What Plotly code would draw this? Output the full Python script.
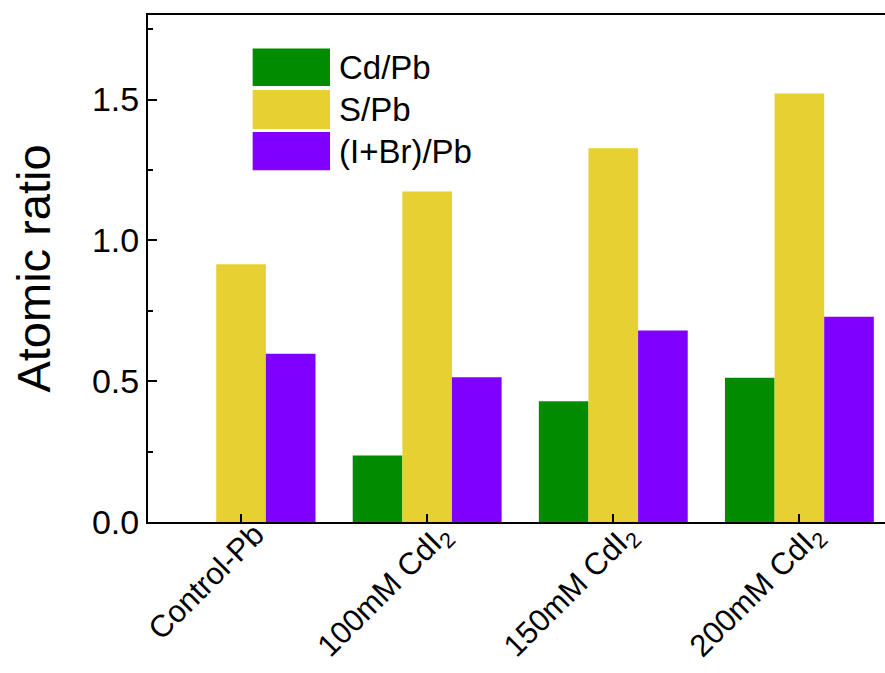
import plotly.graph_objects as go

# Samples and measured atomic ratios
samples = ["Control-Pb", "100mM CdI<sub>2</sub>", "150mM CdI<sub>2</sub>", "200mM CdI<sub>2</sub>"]
series_names = ["Cd/Pb", "S/Pb", "(I+Br)/Pb"]
cd_pb = [0.0, 0.236, 0.429, 0.512]
s_pb = [0.915, 1.173, 1.327, 1.521]
ibr_pb = [0.597, 0.514, 0.680, 0.729]
colors = ["#008C00", "#E6D032", "#8000FF"]

FONT = "Liberation Sans, Arial, sans-serif"

fig = go.Figure()
for name, vals, col in zip(series_names, [cd_pb, s_pb, ibr_pb], colors):
    fig.add_trace(go.Bar(
        x=list(range(len(samples))), y=vals, name=name,
        marker=dict(color=col, line=dict(width=0)),
        showlegend=False,
    ))

# Hand-built legend with large colour swatches
sw_x0, sw_x1 = 0.142, 0.247
sw_rows = [(0.860, 0.934), (0.775, 0.852), (0.694, 0.769)]
for (y0, y1), col, name in zip(sw_rows, colors, series_names):
    fig.add_shape(type="rect", xref="paper", yref="paper",
                  x0=sw_x0, x1=sw_x1, y0=y0, y1=y1,
                  fillcolor=col, line=dict(width=0), layer="above")
    fig.add_annotation(xref="paper", yref="paper", x=0.256, y=(y0 + y1) / 2,
                       text=name, showarrow=False, xanchor="left", yanchor="middle",
                       font=dict(family=FONT, size=33, color="black"))

fig.update_layout(
    width=885, height=673,
    margin=dict(l=148, r=0, t=15, b=151),
    paper_bgcolor="white", plot_bgcolor="white",
    barmode="group", bargap=0.2, bargroupgap=0,
    font=dict(family=FONT, color="black"),
)
fig.update_xaxes(
    range=[-0.5, 3.46], automargin=False,
    tickmode="array", tickvals=list(range(len(samples))), ticktext=samples,
    tickangle=-45, tickfont=dict(size=31),
    ticklabelshift=14, ticklabelstandoff=-20,
    ticks="inside", ticklen=8, tickwidth=2, tickcolor="black",
    showline=True, linewidth=2, linecolor="black", mirror=True,
    showgrid=False, zeroline=False,
)
fig.update_yaxes(
    range=[0, 1.8], automargin=False, dtick=0.5, tick0=0, tickformat=".1f",
    tickfont=dict(size=34),
    ticks="inside", ticklen=9, tickwidth=2, tickcolor="black",
    minor=dict(ticks="inside", dtick=0.25, ticklen=5, tickwidth=2, tickcolor="black"),
    showline=True, linewidth=2, linecolor="black", mirror=False,
    showgrid=False, zeroline=False,
    title=dict(text="Atomic ratio", font=dict(size=47), standoff=26),
)

fig.write_html("out.html")
